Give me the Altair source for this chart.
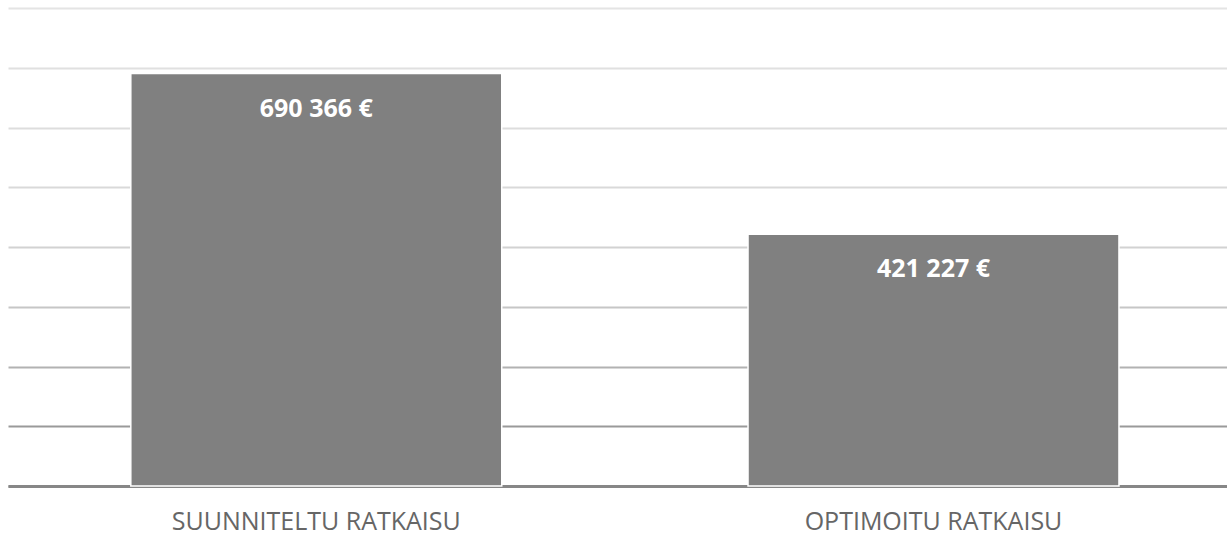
import altair as alt
import pandas as pd

categories = ["SUUNNITELTU RATKAISU", "OPTIMOITU RATKAISU"]
values = [690366, 421227]
value_labels = ["690 366 €", "421 227 €"]
y_ticks = [0, 100000, 200000, 300000, 400000, 500000, 600000, 700000, 800000]

df = pd.DataFrame({"cat": categories, "val": values, "lbl": value_labels})

grid_color = {
    "condition": [
        {"test": "datum.value < 50000", "value": "#888888"},
        {"test": "datum.value < 150000", "value": "#9a9a9a"},
        {"test": "datum.value < 250000", "value": "#b2b2b2"},
        {"test": "datum.value < 350000", "value": "#c6c6c6"},
        {"test": "datum.value < 450000", "value": "#d2d2d2"},
        {"test": "datum.value < 550000", "value": "#d9d9d9"},
        {"test": "datum.value < 650000", "value": "#dddddd"},
        {"test": "datum.value < 750000", "value": "#e0e0e0"},
    ],
    "value": "#e4e4e4",
}

x = alt.X(
    "cat:N",
    sort=categories,
    scale=alt.Scale(paddingInner=0.399, paddingOuter=0.187, align=0.532),
    axis=alt.Axis(
        title=None,
        labelAngle=0,
        ticks=False,
        domain=True,
        domainColor="#878787",
        domainWidth=3,
        labelFont="Open Sans",
        labelFontSize=25,
        labelColor="#666666",
        labelPadding=23,
        labelLimit=0,
    ),
)
y = alt.Y(
    "val:Q",
    scale=alt.Scale(domain=[0, 800000], nice=False),
    axis=alt.Axis(
        title=None,
        values=y_ticks,
        labels=False,
        ticks=False,
        domain=False,
        grid=True,
        gridColor=grid_color,
        gridWidth=2,
    ),
)

bars = alt.Chart(df).mark_bar(color="#808080", stroke="white", strokeWidth=1.5).encode(x=x, y=y)
text = alt.Chart(df).mark_text(
    color="white", font="Open Sans", fontWeight="bold", fontSize=25,
    baseline="middle", dy=35,
).encode(x=alt.X("cat:N", sort=categories), y="val:Q", text="lbl:N")

chart = (
    alt.layer(bars, text)
    .properties(
        width=1219,
        height=478,
        padding={"left": 8, "top": 8, "right": 0, "bottom": 51},
        autosize=alt.AutoSizeParams(type="none"),
        background="white",
    )
    .configure_view(stroke=None)
)

chart.save("out.html", embed_options={"renderer": "svg", "actions": False})
